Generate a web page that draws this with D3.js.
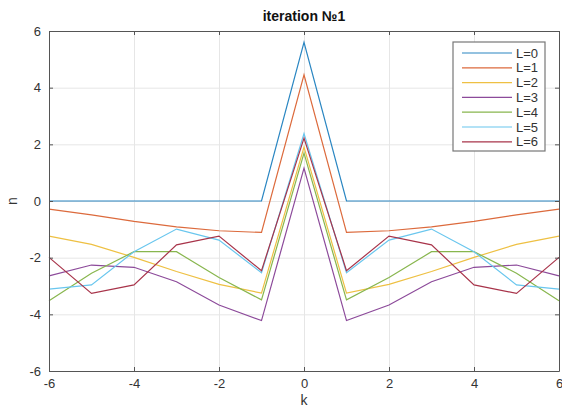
<!DOCTYPE html>
<html>
<head>
<meta charset="utf-8">
<script src="https://cdn.jsdelivr.net/npm/d3@7"></script>
<style>
  body { margin: 0; background: #fff; }
  svg { font-family: "Liberation Sans", Arial, sans-serif; }
  .grid line { stroke: #e6e6e6; }
  .grid path { display: none; }
  .ax path, .ax line { stroke: #555; }
  .ax text { fill: #333; font-size: 13px; }
</style>
</head>
<body>
<div id="chart"></div>
<script>
// k values
var ks = [-6, -5, -4, -3, -2, -1, 0, 1, 2, 3, 4, 5, 6];

// one array per L
var L0 = [0, 0, 0, 0, 0, 0, 5.6, 0, 0, 0, 0, 0, 0];
var L1 = [-0.29, -0.49, -0.72, -0.91, -1.05, -1.11, 4.45, -1.11, -1.05, -0.91, -0.72, -0.49, -0.29];
var L2 = [-1.24, -1.53, -1.99, -2.49, -2.94, -3.25, 1.9, -3.25, -2.94, -2.49, -1.99, -1.53, -1.24];
var L3 = [-2.64, -2.26, -2.34, -2.85, -3.67, -4.22, 1.16, -4.22, -3.67, -2.85, -2.34, -2.26, -2.64];
var L4 = [-3.52, -2.55, -1.79, -1.79, -2.7, -3.49, 1.69, -3.49, -2.7, -1.79, -1.79, -2.55, -3.52];
var L5 = [-3.11, -2.96, -1.79, -0.99, -1.38, -2.53, 2.38, -2.53, -1.38, -0.99, -1.79, -2.96, -3.11];
var L6 = [-1.99, -3.26, -2.96, -1.55, -1.24, -2.46, 2.22, -2.46, -1.24, -1.55, -2.96, -3.26, -1.99];

var names = ["L=0", "L=1", "L=2", "L=3", "L=4", "L=5", "L=6"];
// matlab default colours, a bit softer like the picture
var colors = ["#2a86c2", "#dc6a3c", "#eec043", "#8c4a9a", "#88b64e", "#69c6ee", "#a8344a"];
var xTicks = [-6, -4, -2, 0, 2, 4, 6];
var yTicks = [-6, -4, -2, 0, 2, 4, 6];

var series = [L0, L1, L2, L3, L4, L5, L6];

// plot area
var margin = {top: 31, right: 3, bottom: 36, left: 49},
    W = 562, H = 407,
    width = W - margin.left - margin.right,
    height = H - margin.top - margin.bottom;

var x = d3.scaleLinear().domain([-6, 6]).range([0, width]);
var y = d3.scaleLinear().domain([-6, 6]).range([height, 0]);

var svg = d3.select("#chart").append("svg")
    .attr("width", W)
    .attr("height", H)
  .append("g")
    .attr("transform", "translate(" + margin.left + "," + margin.top + ")");

// grid
svg.append("g").attr("class", "grid")
    .attr("transform", "translate(0," + height + ")")
    .call(d3.axisBottom(x).tickValues(xTicks).tickSize(-height).tickFormat(""));
svg.append("g").attr("class", "grid")
    .call(d3.axisLeft(y).tickValues(yTicks).tickSize(-width).tickFormat(""));

// lines
var line = d3.line()
    .x(function(d, i) { return x(ks[i]); })
    .y(function(d) { return y(d); });

series.forEach(function(s, i) {
  svg.append("path")
      .datum(s)
      .attr("fill", "none")
      .attr("stroke", colors[i])
      .attr("stroke-width", 1.2)
      .attr("d", line);
});

// axes, ticks pointing inward like matlab
var fmt = function(d) { return String(d); };
svg.append("g").attr("class", "ax")
    .attr("transform", "translate(0," + height + ")")
    .call(d3.axisBottom(x).tickValues(xTicks).tickSizeInner(-4).tickSizeOuter(0).tickPadding(8).tickFormat(fmt));
svg.append("g").attr("class", "ax")
    .call(d3.axisTop(x).tickValues(xTicks).tickSizeInner(-4).tickSizeOuter(0).tickFormat(""));
svg.append("g").attr("class", "ax")
    .call(d3.axisLeft(y).tickValues(yTicks).tickSizeInner(-4).tickSizeOuter(0).tickPadding(8).tickFormat(fmt));
svg.append("g").attr("class", "ax")
    .attr("transform", "translate(" + width + ",0)")
    .call(d3.axisRight(y).tickValues(yTicks).tickSizeInner(-4).tickSizeOuter(0).tickFormat(""));

// title and labels
svg.append("text")
    .attr("x", width / 2).attr("y", -10)
    .attr("text-anchor", "middle")
    .style("font-size", "14px").style("font-weight", "bold").style("fill", "#111")
    .text("iteration №1");
svg.append("text")
    .attr("x", width / 2).attr("y", height + 34)
    .attr("text-anchor", "middle")
    .style("font-size", "14px").style("fill", "#333")
    .text("k");
svg.append("text")
    .attr("transform", "translate(" + (-32) + "," + y(0) + ") rotate(-90)")
    .attr("text-anchor", "middle")
    .style("font-size", "14px").style("fill", "#333")
    .text("n");

// legend
var lg = svg.append("g").attr("transform", "translate(" + (x(6) - 106) + ",11)");
lg.append("rect")
    .attr("width", 92).attr("height", 109)
    .attr("fill", "#fff").attr("stroke", "#777").attr("stroke-width", 1.2);
names.forEach(function(n, i) {
  var yy = 11 + i * 14.8;
  lg.append("line")
      .attr("x1", 9).attr("x2", 59).attr("y1", yy).attr("y2", yy)
      .attr("stroke", colors[i]).attr("stroke-width", 1.2);
  lg.append("text")
      .attr("x", 63).attr("y", yy + 4.5)
      .style("font-size", "13px").style("fill", "#333")
      .text(n);
});
</script>
</body>
</html>
